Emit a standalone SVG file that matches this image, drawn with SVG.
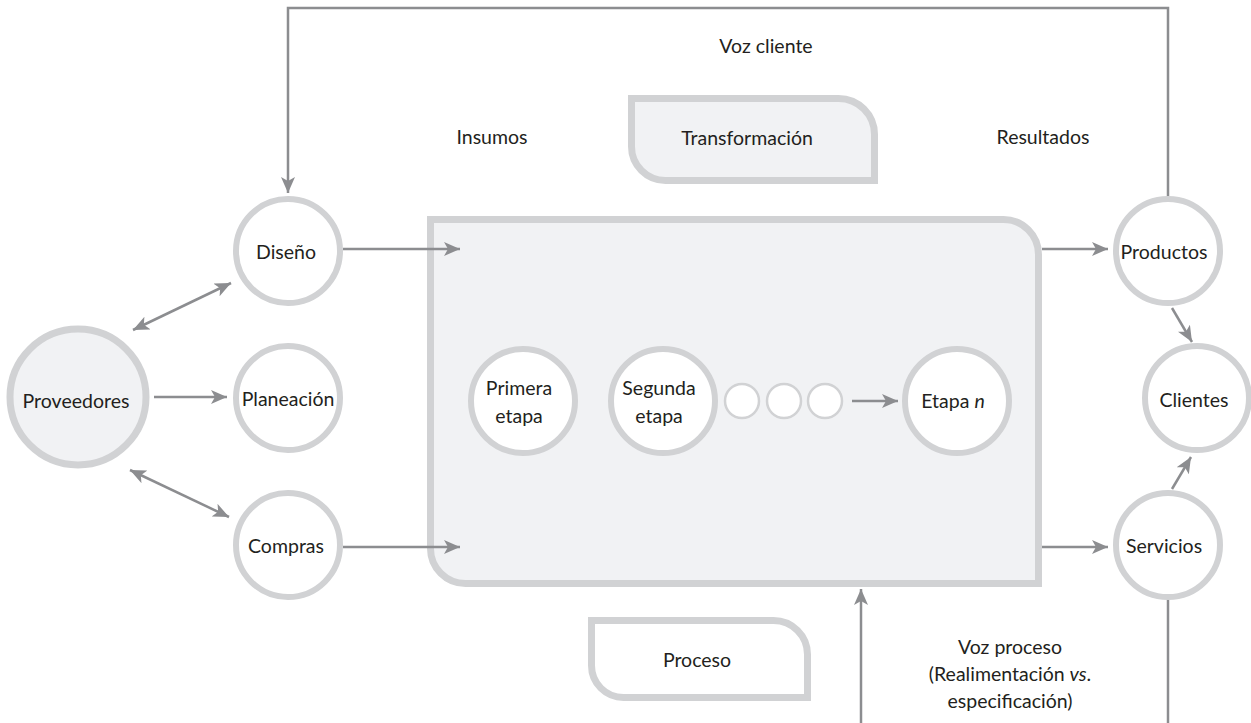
<svg xmlns="http://www.w3.org/2000/svg" width="1251" height="723" viewBox="0 0 1251 723">
<style>
.n{fill:#fff;stroke:#d1d2d4;stroke-width:6}
.g{fill:#f1f2f4;stroke:#d1d2d4;stroke-width:7}
.s{fill:#fff;stroke:#d1d2d4;stroke-width:2.5}
.c{fill:none;stroke:#8c8d90;stroke-width:2.5}
text{font-family:Lato,"Liberation Sans",sans-serif;font-size:19.5px;fill:#231f20;text-anchor:middle}
</style>
<defs>
<marker id="a" markerUnits="userSpaceOnUse" markerWidth="18" markerHeight="14" viewBox="0 0 18 14" refX="16" refY="7" orient="auto-start-reverse">
<path d="M0,0 L16,7 L0,14 L4,7 Z" fill="#8c8d90"/>
</marker>
</defs>
<rect width="1251" height="723" fill="#fff"/>
<g id="transformacion">
<path class="g" d="M631.5,98.5 H838.5 A36,36 0 0 1 874.5,134.5 V180.5 H665.5 A34,34 0 0 1 631.5,146.5 Z"/>
<text x="747" y="145">Transformación</text>
</g>
<g id="proceso-box">
<path class="n" style="stroke-width:7" d="M591.5,620.5 H773.5 A34,34 0 0 1 807.5,654.5 V697.5 H623.5 A32,32 0 0 1 591.5,665.5 Z"/>
<text x="697" y="667">Proceso</text>
</g>
<g id="proceso">
<path class="g" d="M430.5,219.5 H1003.5 A35,35 0 0 1 1038.5,254.5 V583.5 H465.5 A35,35 0 0 1 430.5,548.5 Z"/>
</g>
<g id="labels">
<text x="766" y="53">Voz cliente</text>
<text x="492" y="144">Insumos</text>
<text x="1043" y="144">Resultados</text>
<text x="1010" y="654">Voz proceso</text>
<text x="1010" y="681">(Realimentación <tspan font-style="italic">vs</tspan>.</text>
<text x="1010" y="708">especificación)</text>
</g>
<g id="connectors">
<path class="c" d="M1168,196 V8 H288 V193" marker-end="url(#a)"/>
<path class="c" d="M343,249 H460" marker-end="url(#a)"/>
<path class="c" d="M343,547 H460" marker-end="url(#a)"/>
<path class="c" d="M1042,249 H1108" marker-end="url(#a)"/>
<path class="c" d="M1042,547 H1108" marker-end="url(#a)"/>
<path class="c" d="M154,397 H227" marker-end="url(#a)"/>
<path class="c" d="M133,330 L231,283" marker-start="url(#a)" marker-end="url(#a)"/>
<path class="c" d="M130,470 L229,517" marker-start="url(#a)" marker-end="url(#a)"/>
<path class="c" d="M852,401 H898" marker-end="url(#a)"/>
<path class="c" d="M1172,308 L1192,342" marker-end="url(#a)"/>
<path class="c" d="M1172,489 L1191,457" marker-end="url(#a)"/>
<path class="c" d="M861,723 V589" marker-end="url(#a)"/>
<path class="c" d="M1168,600 V723"/>
</g>
<g id="proveedores">
<circle class="g" cx="78" cy="397" r="68"/>
<text x="76" y="408">Proveedores</text>
</g>
<g id="diseno">
<circle class="n" cx="288" cy="251" r="52"/>
<text x="286" y="259">Diseño</text>
</g>
<g id="planeacion">
<circle class="n" cx="288" cy="398" r="52"/>
<text x="288" y="406">Planeación</text>
</g>
<g id="compras">
<circle class="n" cx="288" cy="545" r="52"/>
<text x="286" y="553">Compras</text>
</g>
<g id="primera">
<circle class="n" cx="523" cy="401" r="52"/>
<text x="519" y="395">Primera</text>
<text x="519" y="423">etapa</text>
</g>
<g id="segunda">
<circle class="n" cx="663" cy="401" r="52"/>
<text x="659" y="395">Segunda</text>
<text x="659" y="423">etapa</text>
</g>
<g id="pasos">
<circle class="s" cx="742" cy="401" r="17"/>
<circle class="s" cx="784" cy="401" r="17"/>
<circle class="s" cx="825" cy="401" r="17"/>
</g>
<g id="etapa-n">
<circle class="n" cx="957" cy="401" r="52"/>
<text x="953" y="408">Etapa <tspan font-style="italic">n</tspan></text>
</g>
<g id="productos">
<circle class="n" cx="1168" cy="251" r="52"/>
<text x="1164" y="259">Productos</text>
</g>
<g id="clientes">
<circle class="n" cx="1197" cy="398" r="52"/>
<text x="1194" y="407">Clientes</text>
</g>
<g id="servicios">
<circle class="n" cx="1168" cy="545" r="52"/>
<text x="1164" y="553">Servicios</text>
</g>
</svg>
